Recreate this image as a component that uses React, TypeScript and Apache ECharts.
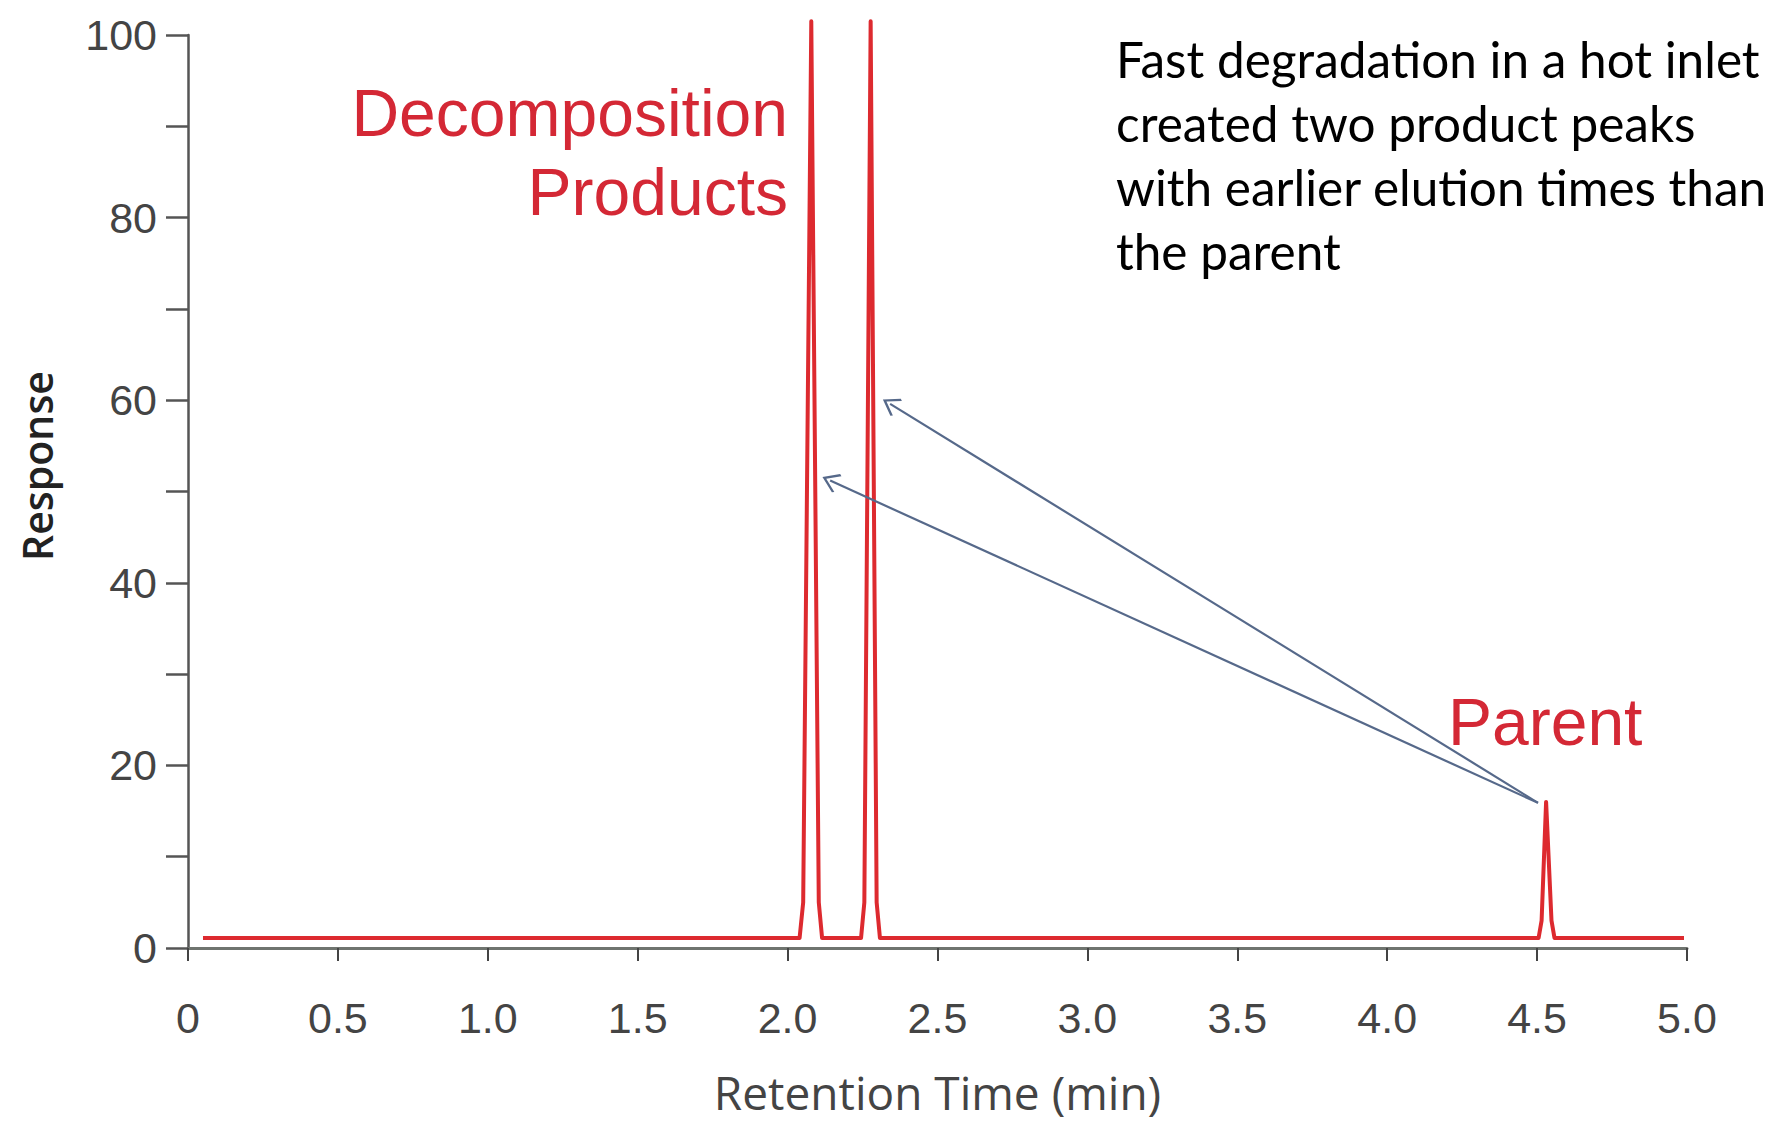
import React, { useEffect, useRef } from "react";
import * as echarts from "echarts";

// Chromatogram trace (retention time in min, response)
const retentionTime = [
  0.05, 2.04, 2.052, 2.079, 2.104, 2.115,
  2.245, 2.256, 2.277, 2.297, 2.308,
  4.505, 4.515, 4.53, 4.548, 4.558, 4.99,
];
const response = [
  1.1, 1.1, 5, 101.5, 5, 1.1,
  1.1, 5, 101.5, 5, 1.1,
  1.1, 3, 16, 3, 1.1, 1.1,
];

// Arrow annotations (from parent peak to product peaks), data coordinates
const arrowStart = [4.503, 15.9];
const arrowEnds = [
  [2.342, 59.6],
  [2.142, 51.2],
];

const xTicks = { min: 0, max: 5, interval: 0.5 };
const yTicks = { min: 0, max: 100, interval: 10, labelEvery: 20 };

const noteLines = [
  "Fast degradation in a hot inlet",
  "created two product peaks",
  "with earlier elution times than",
  "the parent",
];

export default function App() {
  const ref = useRef<HTMLDivElement>(null);

  useEffect(() => {
    if (!ref.current) return;
    const chart = echarts.init(ref.current, undefined, { renderer: "svg" });
    const red = "#dd2a2f";
    const labelRed = "#d42835";
    const tickFont = "'Liberation Sans', Arial, sans-serif";

    const seriesData = retentionTime.map((t, i) => [t, response[i]]);

    chart.setOption({
      animation: false,
      backgroundColor: "#ffffff",
      grid: { left: 188, right: 103, top: 35, bottom: 174, containLabel: false },
      xAxis: {
        type: "value",
        min: xTicks.min,
        max: xTicks.max,
        interval: xTicks.interval,
        name: "Retention Time (min)",
        nameLocation: "middle",
        nameGap: 121,
        nameTextStyle: {
          fontFamily: "'Open Sans', sans-serif",
          fontSize: 46,
          fontWeight: 500,
          color: "#444",
        },
        axisLine: { show: true, onZero: false, lineStyle: { color: "#6f746f", width: 3 } },
        axisTick: { show: true, inside: false, length: 13, lineStyle: { color: "#444", width: 2 } },
        axisLabel: {
          margin: 48,
          fontFamily: tickFont,
          fontSize: 43,
          color: "#444",
          formatter: (v: number) => (v === 0 ? "0" : v.toFixed(1)),
        },
        splitLine: { show: false },
      },
      yAxis: {
        type: "value",
        min: yTicks.min,
        max: yTicks.max,
        interval: yTicks.interval,
        axisLine: { show: true, lineStyle: { color: "#555", width: 2.5 } },
        axisTick: { show: true, inside: false, length: 22, lineStyle: { color: "#555", width: 2.5 } },
        axisLabel: {
          margin: 31,
          fontFamily: tickFont,
          fontSize: 43,
          color: "#444",
          formatter: (v: number) => (v % yTicks.labelEvery === 0 ? String(v) : ""),
        },
        splitLine: { show: false },
      },
      series: [
        {
          type: "line",
          data: seriesData,
          showSymbol: false,
          symbol: "none",
          clip: false,
          silent: true,
          lineStyle: { color: red, width: 4, join: "round" },
          markLine: {
            silent: true,
            symbol: ["none", "path://M0,0 L10,10 L8.6,11.4 L0,2.8 L-8.6,11.4 L-10,10 Z"],
            symbolSize: [20, 17],
            label: { show: false },
            lineStyle: { color: "#56698a", width: 2.2, type: "solid" },
            emphasis: { disabled: true },
            data: arrowEnds.map((e) => [
              { coord: arrowStart },
              { coord: e },
            ]),
          },
        },
      ],
      graphic: [
        {
          type: "text",
          x: 788,
          y: 113,
          style: {
            text: "Decomposition",
            align: "right",
            verticalAlign: "middle",
            fill: labelRed,
            font: `66px ${tickFont}`,
          },
        },
        {
          type: "text",
          x: 788,
          y: 192,
          style: {
            text: "Products",
            align: "right",
            verticalAlign: "middle",
            fill: labelRed,
            font: `66px ${tickFont}`,
          },
        },
        {
          type: "text",
          x: 1448,
          y: 722,
          style: {
            text: "Parent",
            align: "left",
            verticalAlign: "middle",
            fill: labelRed,
            font: `66px ${tickFont}`,
          },
        },
        {
          type: "text",
          x: 37,
          y: 466,
          rotation: Math.PI / 2,
          style: {
            text: "Response",
            align: "center",
            verticalAlign: "middle",
            fill: "#222",
            font: "600 41px 'Open Sans', sans-serif",
          },
        },
        ...noteLines.map((line, i) => ({
          type: "text",
          x: 1116,
          y: 59 + i * 64,
          style: {
            text: line,
            align: "left",
            verticalAlign: "middle",
            fill: "#000",
            font: "49.5px Lato, sans-serif",
          },
        })),
      ],
    });

    return () => chart.dispose();
  }, []);

  return (
    <div
      ref={ref}
      style={{ position: "fixed", left: 0, top: 0, width: 1790, height: 1122 }}
    />
  );
}
